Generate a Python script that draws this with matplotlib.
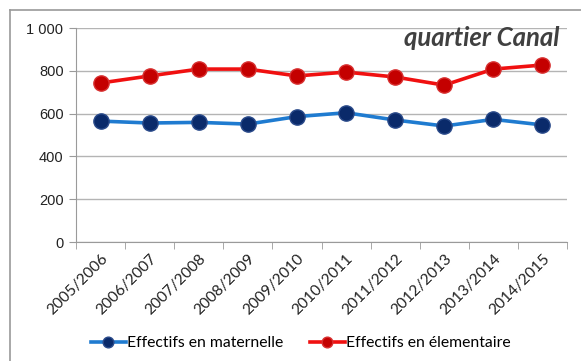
import matplotlib.pyplot as plt
from matplotlib.lines import Line2D

annees = ["2005/2006", "2006/2007", "2007/2008", "2008/2009", "2009/2010",
          "2010/2011", "2011/2012", "2012/2013", "2013/2014", "2014/2015"]
maternelle = [565, 556, 559, 551, 586, 604, 570, 542, 573, 547]
elementaire = [743, 776, 808, 808, 776, 794, 771, 733, 808, 827]
y_ticks = [0, 200, 400, 600, 800, 1000]
y_labels = ["0", "200", "400", "600", "800", "1 000"]

plt.rcParams['font.family'] = ['Lato', 'DejaVu Sans']

fig = plt.figure(figsize=(5.81, 3.61), dpi=100)
ax = fig.add_axes([76 / 581, 1 - 242 / 361, (567 - 76) / 581, (242 - 28) / 361])

# cadre du graphique (seuls les bords gauche et haut sont visibles)
fig.add_artist(Line2D([10 / 581, 10 / 581], [0, 1 - 10 / 361], color="#9a9a9a", lw=1.2,
                      transform=fig.transFigure))
fig.add_artist(Line2D([10 / 581, 1], [1 - 10 / 361, 1 - 10 / 361], color="#9a9a9a", lw=1.2,
                      transform=fig.transFigure))

x = range(len(annees))
ax.plot(x, maternelle, color="#1f7bd0", lw=2.6, marker="o", markersize=11,
        markerfacecolor="#0a2a6a", markeredgecolor="#2a4a8a", markeredgewidth=1,
        label="Effectifs en maternelle", zorder=3)
ax.plot(x, elementaire, color="#f01010", lw=2.6, marker="o", markersize=11,
        markerfacecolor="#c40000", markeredgecolor="#d83030", markeredgewidth=1,
        label="Effectifs en élementaire", zorder=3)

ax.set_xlim(-0.5, len(annees) - 0.5)
ax.set_ylim(0, 1000)
ax.set_yticks(y_ticks)
ax.set_yticklabels(y_labels, fontsize=10.5, color="#222222", family="Liberation Sans")
ax.set_xticks(x)
ax.set_xticklabels(annees, rotation=45, ha="right", rotation_mode="anchor",
                   fontsize=11.2, color="#222222")
ax.set_xticks([i - 0.5 for i in range(len(annees) + 1)], minor=True)
ax.tick_params(axis="x", which="major", length=0, pad=7)
ax.tick_params(axis="x", which="minor", length=5, color="#9a9a9a", direction="out")
ax.tick_params(axis="y", length=5, color="#9a9a9a", pad=4)

ax.grid(axis="y", color="#b4b4b4", lw=1)
ax.set_axisbelow(True)
for side in ["top", "right"]:
    ax.spines[side].set_visible(False)
for side in ["left", "bottom"]:
    ax.spines[side].set_color("#9a9a9a")

ax.text(0.985, 0.955, "quartier Canal", transform=ax.transAxes, ha="right", va="center",
        fontsize=18.5, fontweight="bold", fontstyle="italic", color="#404040")

fig.legend(loc="center", bbox_to_anchor=(0.518, 1 - 343 / 361), ncol=2, frameon=False,
           fontsize=11.3, handlelength=2.2, handletextpad=0.1, columnspacing=1.7,
           markerscale=0.7)

fig.savefig("out.png", dpi=100)
